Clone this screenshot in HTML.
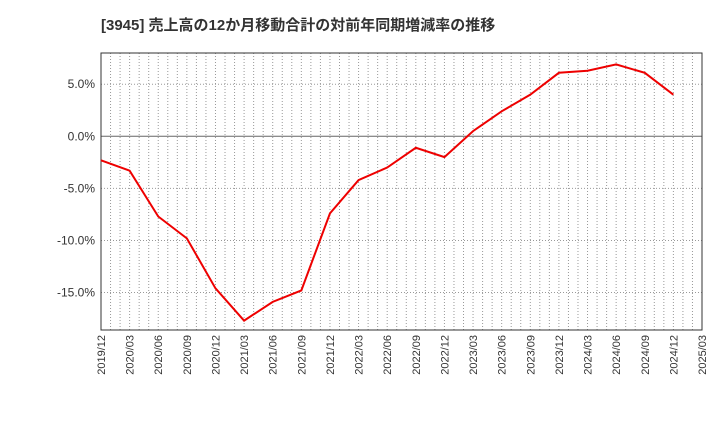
<!DOCTYPE html>
<html><head><meta charset="utf-8"><style>
body{margin:0;background:#fff;}
svg{display:block;font-family:"Liberation Sans","Noto Sans CJK JP",sans-serif;}
</style></head><body>
<svg id="c" width="720" height="440">
<text x="101" y="30" font-size="15" font-weight="bold" fill="#333">[3945]  売上高の12か月移動合計の対前年同期増減率の推移</text>
<g id="grid"></g><g id="axes"></g><g id="series"></g>
</svg>
<script>
const categories=["2019/12","2020/03","2020/06","2020/09","2020/12","2021/03","2021/06","2021/09","2021/12","2022/03","2022/06","2022/09","2022/12","2023/03","2023/06","2023/09","2023/12","2024/03","2024/06","2024/09","2024/12","2025/03"];
const values=[-2.3,-3.3,-7.7,-9.8,-14.6,-17.7,-15.9,-14.8,-7.4,-4.2,-3.0,-1.1,-2.0,0.5,2.4,4.0,6.1,6.3,6.9,6.1,4.0];
const yTicks=[5,0,-5,-10,-15];
const yTickLabels=["5.0%","0.0%","-5.0%","-10.0%","-15.0%"];
const L=101,R=702,T=53,B=330,yMax=8,yMin=-18.6;
const NS="http://www.w3.org/2000/svg";
const xq=i=>L+(R-L)*i/(categories.length-1);
const y=v=>T+(yMax-v)/(yMax-yMin)*(B-T);
function mk(t,a,p){const e=document.createElementNS(NS,t);for(const k in a)e.setAttribute(k,a[k]);p.appendChild(e);return e;}
const g=document.getElementById('grid'),ax=document.getElementById('axes'),s=document.getElementById('series');
for(let m=1;m<(categories.length-1)*3;m++){const x=L+(R-L)*m/((categories.length-1)*3);
const l=mk('line',{x1:x,x2:x,y1:T,y2:B,stroke:'#999','stroke-dasharray':'1,2','stroke-width':1},g);

}
yTicks.forEach((v,i)=>{const yy=y(v);
const l=mk('line',{x1:L,x2:R,y1:yy,y2:yy,stroke:v===0?'#666':'#999','stroke-dasharray':v===0?'':'1,2','stroke-width':1},g);


const t=mk('text',{x:L-6,y:yy+4,'text-anchor':'end','font-size':12,fill:'#333'},ax);t.textContent=yTickLabels[i];

});
categories.forEach((c,i)=>{const x=xq(i);
const t=mk('text',{x:0,y:0,'text-anchor':'end','font-size':11,fill:'#333',transform:`translate(${x+4},${B+5}) rotate(-90)`},ax);t.textContent=c;

});
const fr=mk('rect',{x:L,y:T,width:R-L,height:B-T,fill:'none',stroke:'#333','stroke-width':1},ax);


const p=mk('polyline',{points:values.map((v,i)=>xq(i)+','+y(v)).join(' '),fill:'none',stroke:'#e00','stroke-width':2},s);


</script>
</body></html>
